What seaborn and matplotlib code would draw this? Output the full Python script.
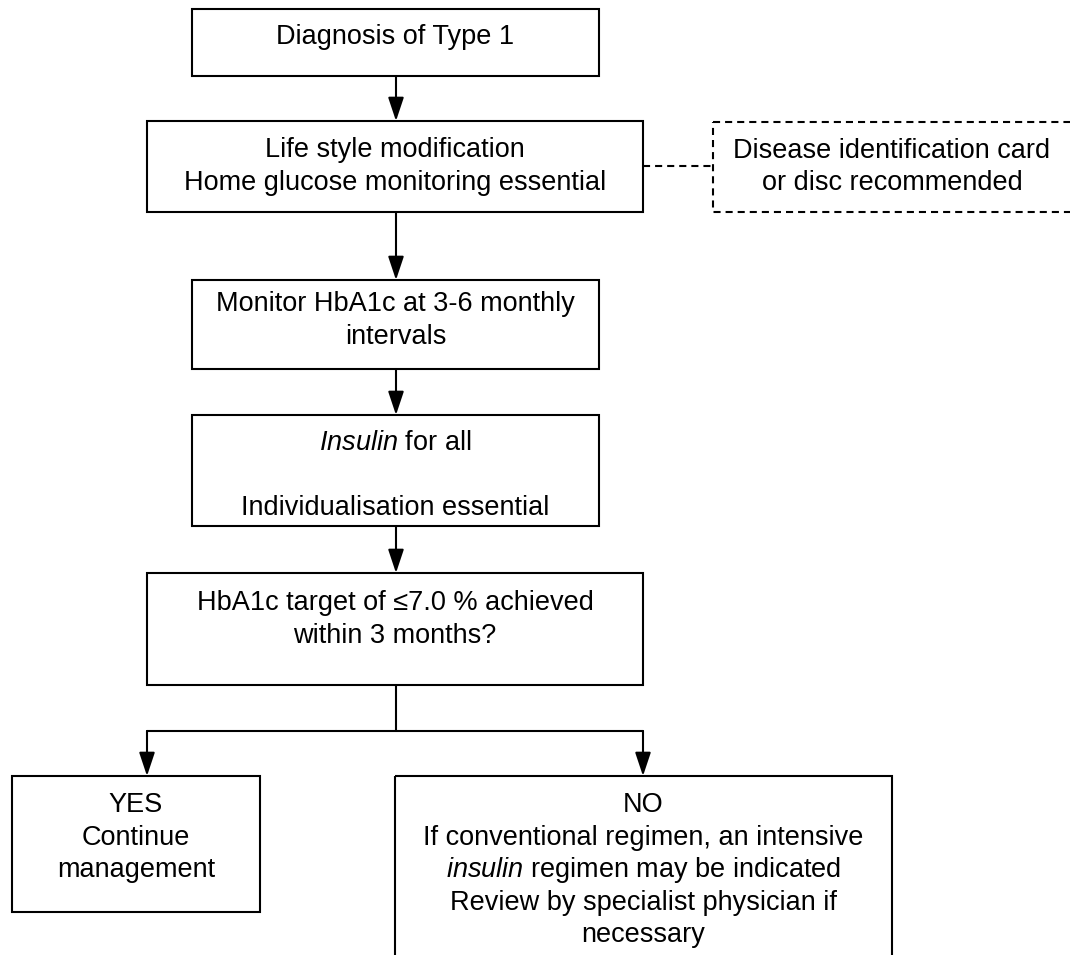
import matplotlib
matplotlib.use("Agg")
import matplotlib.pyplot as plt
import seaborn as sns
from matplotlib.patches import Rectangle

sns.set_style("white")
plt.rcParams['font.family'] = ['Liberation Sans', 'DejaVu Sans']
plt.rcParams['mathtext.fontset'] = 'custom'
plt.rcParams['mathtext.rm'] = 'Liberation Sans'
plt.rcParams['mathtext.it'] = 'Liberation Sans:italic'

# ---- content ----
box_labels = [
    "Diagnosis of Type 1",
    "Life style modification\nHome glucose monitoring essential",
    "Monitor HbA1c at 3-6 monthly\nintervals",
    r"$\it{Insulin}$ for all" + "\n\n" + "Individualisation essential",
    "HbA1c target of \u22647.0 % achieved\nwithin 3 months?",
    "YES\nContinue\nmanagement",
    "NO\nIf conventional regimen, an intensive\n" + r"$\it{insulin}$ regimen may be indicated" +
    "\nReview by specialist physician if\nnecessary",
]
side_label = "Disease identification card\nor disc recommended"

# ---- layout (pixels: x0, y0, x1, y1) ----
boxes = [
    (192, 9, 599, 76),
    (147, 121, 643, 212),
    (192, 280, 599, 369),
    (192, 415, 599, 526),
    (147, 573, 643, 685),
    (12, 776, 260, 912),
    (395, 776, 892, 975),
]
first_baseline = [44, 157, 311, 450, 610, 812, 812]
side_box = (713, 122, 1085, 212)
side_baseline = 158
line_gap = 32.5
W, H = 1070, 955

fig = plt.figure(figsize=(W / 100, H / 100), dpi=100)
ax = fig.add_axes([0, 0, 1, 1])
ax.set_xlim(0, W)
ax.set_ylim(H, 0)
ax.axis('off')

lw = 1.5
fs = 19.5
dash = (0, (3.4, 2.4))

def draw_box(b, ls='-'):
    x0, y0, x1, y1 = b
    ax.add_patch(Rectangle((x0, y0), x1 - x0, y1 - y0, fill=False,
                           edgecolor='black', lw=lw, linestyle=ls))

def draw_text(cx, y_first, label):
    for i, line in enumerate(label.split("\n")):
        if line:
            ax.text(cx, y_first + i * line_gap, line, ha='center', va='baseline',
                    fontsize=fs, color='black')

for b, lab, ty in zip(boxes, box_labels, first_baseline):
    draw_box(b)
    draw_text((b[0] + b[2]) / 2, ty, lab)

draw_box(side_box, ls=dash)
draw_text(892, side_baseline, side_label)
ax.plot([643, 713], [166, 166], color='black', lw=lw, linestyle=dash)

def arrow(x, y0, y1):
    ax.annotate("", xy=(x, y1), xytext=(x, y0),
                arrowprops=dict(arrowstyle="-|>,head_length=0.9,head_width=0.3",
                                color='black', lw=lw, mutation_scale=16,
                                shrinkA=0, shrinkB=0))

cx = 396
for (a, b) in zip(boxes[:4], boxes[1:5]):
    arrow(cx, a[3], b[1])

# branch
ax.plot([cx, cx], [685, 731], color='black', lw=lw)
ax.plot([147, 643], [731, 731], color='black', lw=lw)
arrow(147, 731, 776)
arrow(643, 731, 776)

fig.savefig("out.png", dpi=100, facecolor='white')
